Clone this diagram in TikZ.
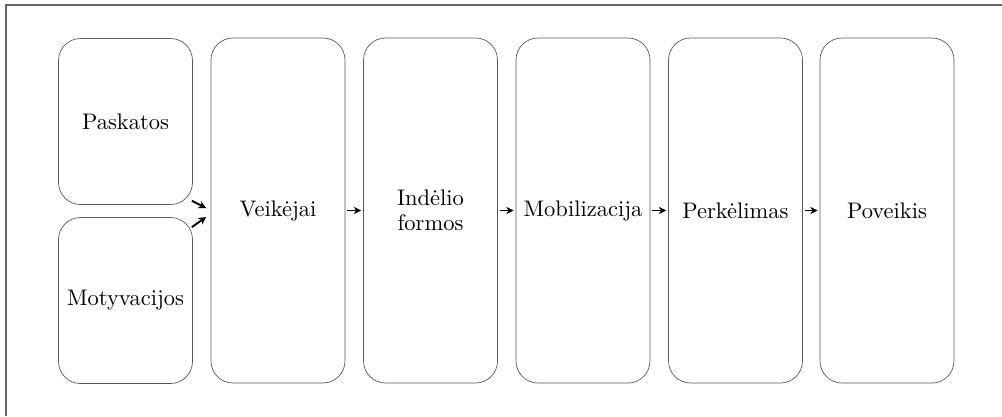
\documentclass[tikz,border=0pt]{standalone}
\usepackage{fontspec}
\setmainfont{lmroman10-regular.otf}
\usetikzlibrary{arrows.meta}
\begin{document}
\begin{tikzpicture}[x=1pt,y=-1pt,
  stagebox/.style={draw=black!65,line width=0.7pt,rounded corners=22pt,
    minimum width=134pt,inner sep=0pt,align=center,
    font=\fontsize{22.5}{25}\selectfont},
  tallbox/.style={stagebox,minimum height=345pt},
  halfbox/.style={stagebox,minimum height=166pt},
  flow/.style={line width=1.9pt,-{Stealth[length=7.5pt,width=7.5pt]}},
  frameline/.style={line width=2pt,draw=black!60}]
\useasboundingbox (0,0) rectangle (1002,416);
\coordinate (fa) at (6,416);
\coordinate (fb) at (6,5);
\coordinate (fc) at (1002,5);
\draw[frameline] (fa) -- (fb) -- (fc);
\node[halfbox] (p) at (125.5,121.5) {Paskatos};
\node[halfbox] (m) at (125.5,300.5) {Motyvacijos};
\node[tallbox] (v) at (278,210.5) {Veikėjai};
\node[tallbox] (i) at (430.5,210.5) {Indėlio\\formos};
\node[tallbox] (b) at (583,210.5) {Mobilizacija};
\node[tallbox] (k) at (735.5,210.5) {Perkėlimas};
\node[tallbox] (w) at (887,210.5) {Poveikis};
\draw[flow] ([xshift=-1pt,yshift=4pt]p.south east) -- ([xshift=-4.5pt,yshift=2.5pt]v.west);
\draw[flow] ([xshift=-1pt,yshift=-10pt]m.north east) -- ([xshift=-4.5pt,yshift=-6.5pt]v.west);
\draw[flow,shorten <=2pt,shorten >=2pt] (v.east) -- (i.west);
\draw[flow,shorten <=2pt,shorten >=2pt] (i.east) -- (b.west);
\draw[flow,shorten <=2pt,shorten >=2pt] (b.east) -- (k.west);
\draw[flow,shorten <=2pt,shorten >=2pt] (k.east) -- (w.west);
\end{tikzpicture}
\end{document}
